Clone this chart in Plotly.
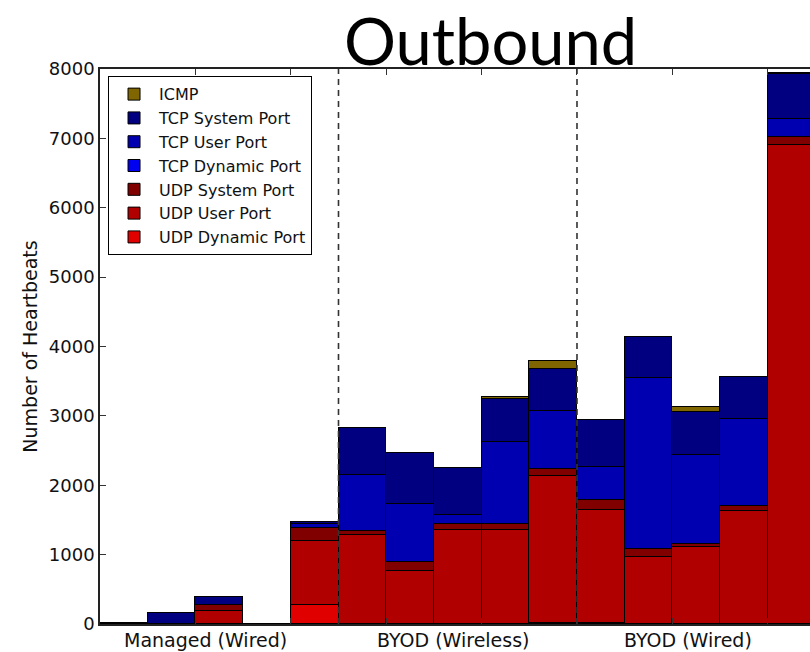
import plotly.graph_objects as go

# Fifteen time bins, five per network group
bins = list(range(15))
group_labels = ["Managed (Wired)", "BYOD (Wireless)", "BYOD (Wired)"]
group_label_pos = [1.72, 6.92, 11.83]
group_dividers = [4.5, 9.5]

# Heartbeat counts per protocol / port class (bottom of the stack first)
udp_dynamic = [0, 0, 0, 0, 280, 0, 0, 0, 0, 15, 15, 0, 0, 0, 0]
udp_user = [0, 0, 190, 0, 915, 1285, 770, 1350, 1350, 2113, 1623, 960, 1105, 1625, 6900]
udp_system = [0, 0, 90, 0, 185, 62, 120, 87, 87, 111, 154, 121, 48, 78, 120]
tcp_dynamic = [0] * 15
tcp_user = [0, 0, 0, 0, 55, 808, 842, 134, 1180, 827, 471, 2462, 1289, 1245, 266]
tcp_system = [20, 160, 110, 0, 40, 668, 740, 674, 630, 616, 674, 592, 620, 610, 638]
icmp = [0, 0, 0, 0, 0, 8, 0, 8, 28, 106, 0, 0, 72, 0, 20]

series = [
    ("UDP Dynamic Port", udp_dynamic, "#e00000"),
    ("UDP User Port", udp_user, "#b00000"),
    ("UDP System Port", udp_system, "#800000"),
    ("TCP Dynamic Port", tcp_dynamic, "#0000f0"),
    ("TCP User Port", tcp_user, "#0000b0"),
    ("TCP System Port", tcp_system, "#000080"),
    ("ICMP", icmp, "#806600"),
]

fig = go.Figure()
n = len(series)
for i, (name, vals, color) in enumerate(series):
    fig.add_trace(go.Bar(
        x=bins, y=vals, name=name, width=1.0,
        marker=dict(color=color, line=dict(color="black", width=1)),
        legendrank=n - i,
    ))

for xd in group_dividers:
    fig.add_shape(type="line", xref="x", yref="paper", x0=xd, x1=xd, y0=0, y1=1,
                  line=dict(color="#333333", width=1.6, dash="6px,5px"), layer="above")

for lbl, xp in zip(group_labels, group_label_pos):
    fig.add_annotation(text=lbl, x=xp, xref="x", y=-0.006, yref="paper",
                       xanchor="center", yanchor="top", showarrow=False,
                       font=dict(family="DejaVu Sans", size=19, color="#111111"))

fig.add_annotation(text="Outbound", x=0.5507, xref="paper", y=1.1235, yref="paper",
                   xanchor="center", yanchor="top", showarrow=False, borderpad=0,
                   font=dict(family="Lato", size=65, color="black"))

fig.update_layout(
    width=810, height=652,
    margin=dict(l=100, r=0, t=69, b=28, pad=0),
    barmode="stack", bargap=0,
    plot_bgcolor="white", paper_bgcolor="white",
    font=dict(family="DejaVu Sans", color="#111111"),
    showlegend=True,
    legend=dict(
        x=0.0113, y=0.987, xanchor="left", yanchor="top",
        traceorder="normal", itemwidth=40,
        bgcolor="white", bordercolor="black", borderwidth=1,
        font=dict(family="DejaVu Sans", size=16, color="#111111"),
    ),
    xaxis=dict(
        range=[-0.5, 14.385], showgrid=False, zeroline=False,
        showline=True, linecolor="#222222", linewidth=1.5, mirror="ticks",
        tickvals=[1.5, 3.5, 5.5, 7.5, 9.5, 11.5, 13.5], ticks="inside",
        ticklen=6, tickcolor="#333333", showticklabels=False,
    ),
    yaxis=dict(
        range=[0, 8000], showgrid=False, zeroline=False,
        showline=True, linecolor="#222222", linewidth=1.5,
        tickvals=list(range(0, 8001, 1000)), ticks="inside", ticklen=6,
        tickcolor="#333333", tickfont=dict(family="DejaVu Sans", size=18, color="#111111"),
        title=dict(text="Number of Heartbeats", standoff=6,
                   font=dict(family="DejaVu Sans", size=19, color="#111111")),
    ),
)

fig.write_html("out.html")
